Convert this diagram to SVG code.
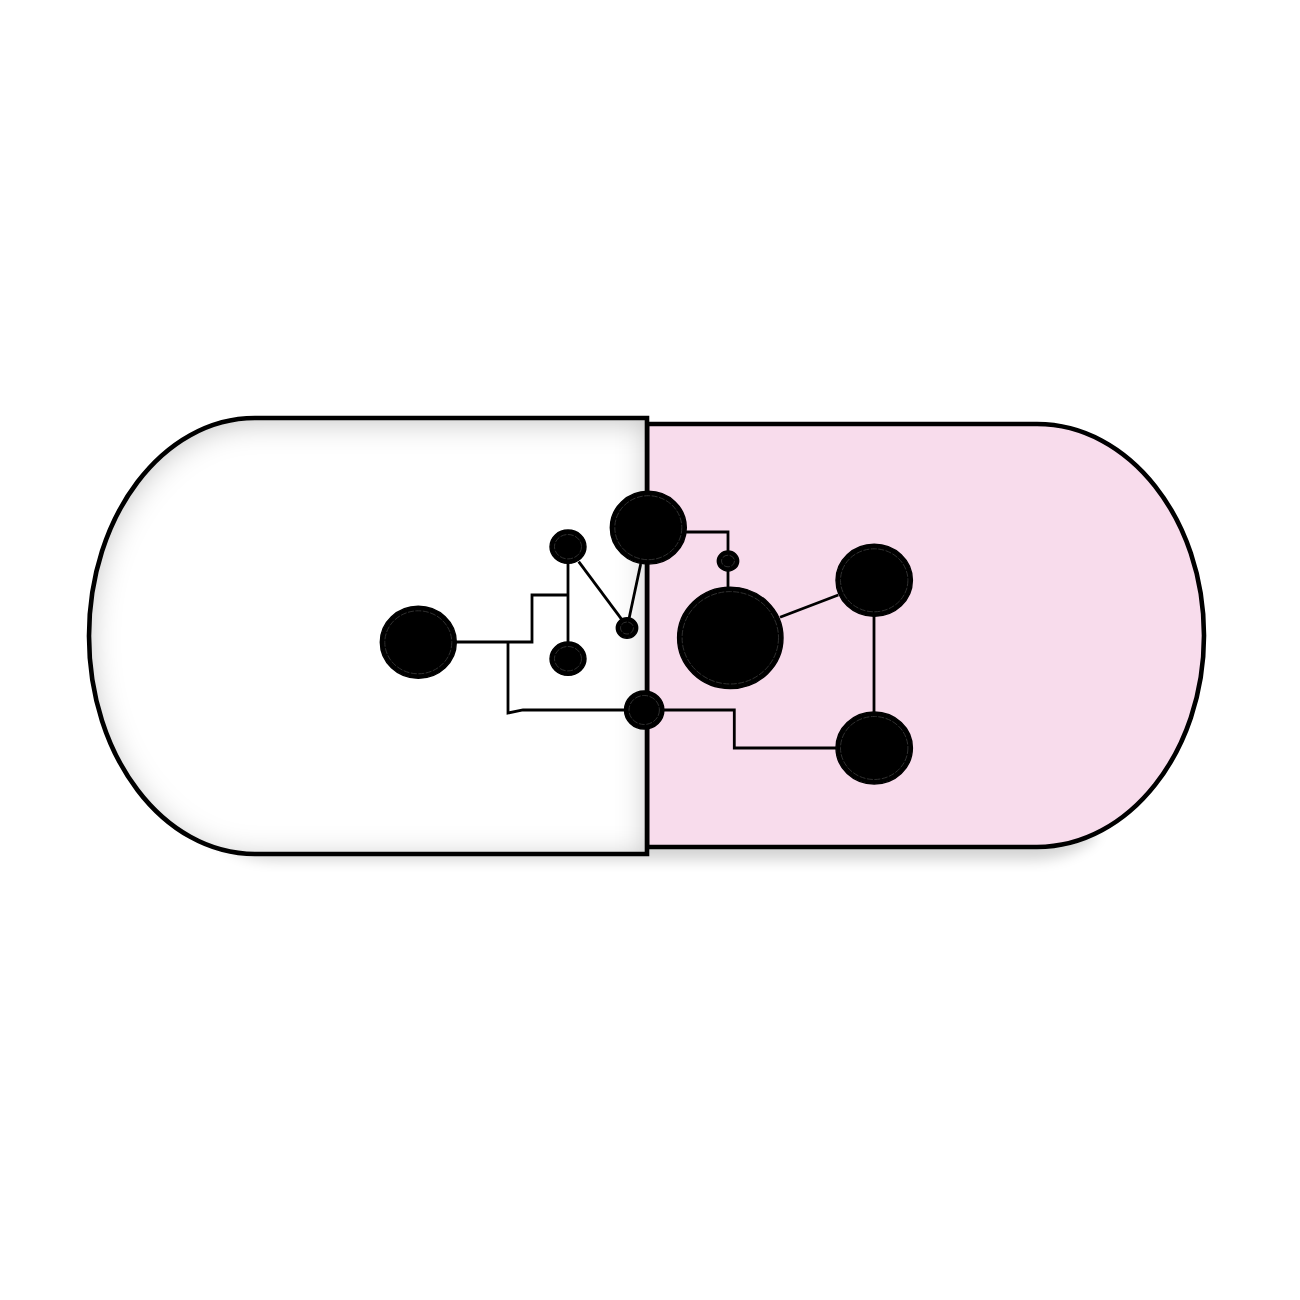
<svg xmlns="http://www.w3.org/2000/svg" width="1300" height="1300" viewBox="0 0 1300 1300">
  <style>
    .outline{fill:none;stroke:#000;stroke-width:4.600;stroke-linejoin:miter}
    .wire{fill:none;stroke:#000;stroke-width:2.800;stroke-linejoin:miter}
    .dot{fill:#000;stroke:#000;stroke-width:1.400}
    .ring{fill:none;stroke:#2f2f2f;stroke-width:1;stroke-dasharray:6 1.500}
  </style>
  <defs>
    <filter id="inset" x="-10%" y="-10%" width="120%" height="120%" color-interpolation-filters="sRGB">
      <feFlood flood-color="#000" flood-opacity="0.24" result="f"/>
      <feComposite in="f" in2="SourceAlpha" operator="out" result="o"/>
      <feGaussianBlur in="o" stdDeviation="15" result="b"/>
      <feOffset in="b" dx="0" dy="4" result="m"/>
      <feComposite in="m" in2="SourceAlpha" operator="in" result="s"/>
      <feMerge><feMergeNode in="SourceGraphic"/><feMergeNode in="s"/></feMerge>
    </filter>
    <filter id="soft" x="-10%" y="-30%" width="120%" height="160%"><feGaussianBlur stdDeviation="7"/></filter>
  </defs>
  <rect width="1300" height="1300" fill="#fff"/>
  <g id="capsule">
    <path d="M205 835C235 852 250 860 275 860H1030C1060 860 1080 850 1095 838V820H205Z" fill="#000" opacity="0.17" filter="url(#soft)"/>
    <path id="right-half" fill="#f8dcec" d="M647 424H1037C1129 424 1204 519 1204 635.500C1204 752 1129 847 1037 847H647Z"/>
    <path class="outline" d="M647 424H1037C1129 424 1204 519 1204 635.500C1204 752 1129 847 1037 847H647Z"/>
    <path id="left-half" fill="#fff" filter="url(#inset)" d="M647 418H255C163 418 89 516 89 636C89 756 163 854 255 854H647Z"/>
    <path class="outline" d="M647 418H255C163 418 89 516 89 636C89 756 163 854 255 854H647Z"/>
  </g>
  <g id="connectors">
    <path class="wire" d="M456 642H532V595H568"/>
    <path class="wire" d="M568 563V642"/>
    <path class="wire" d="M508 642V713L523 710H625"/>
    <path class="wire" d="M578.700 561.700L621.700 619.300"/>
    <path class="wire" d="M640.700 564L629 618.700"/>
    <path class="wire" d="M686 532H728V551"/>
    <path class="wire" d="M728 571V587"/>
    <path class="wire" d="M780 617.300L838.300 595"/>
    <path class="wire" d="M874 616V712"/>
    <path class="wire" d="M664 710H734.300V748H836"/>
  </g>
  <g id="n1"><ellipse class="dot" cx="418.300" cy="642.300" rx="38" ry="36"/><ellipse class="ring" cx="418.300" cy="642.300" rx="33.500" ry="31.500"/></g>
  <g id="n2"><ellipse class="dot" cx="568" cy="546.700" rx="18" ry="16.700"/><ellipse class="ring" cx="568" cy="546.700" rx="13.500" ry="12.200"/></g>
  <g id="n3"><ellipse class="dot" cx="568" cy="658.700" rx="18" ry="16.700"/><ellipse class="ring" cx="568" cy="658.700" rx="13.500" ry="12.200"/></g>
  <g id="n4"><ellipse class="dot" cx="627" cy="628" rx="10.700" ry="10.200"/><ellipse class="ring" cx="627" cy="628" rx="6.500" ry="6"/></g>
  <g id="n5"><ellipse class="dot" cx="648.300" cy="527.700" rx="38" ry="36.400"/><ellipse class="ring" cx="648.300" cy="527.700" rx="33.500" ry="32"/></g>
  <g id="n6"><ellipse class="dot" cx="644.200" cy="710" rx="19.700" ry="19"/><ellipse class="ring" cx="644.200" cy="710" rx="15.200" ry="14.500"/></g>
  <g id="n7"><ellipse class="dot" cx="728" cy="561" rx="10.700" ry="10"/><ellipse class="ring" cx="728" cy="561" rx="6.500" ry="5.800"/></g>
  <g id="n8"><ellipse class="dot" cx="730.300" cy="637.800" rx="52.700" ry="50.700"/><ellipse class="ring" cx="730.300" cy="637.800" rx="48.200" ry="46.200"/></g>
  <g id="n9"><ellipse class="dot" cx="874.200" cy="580.300" rx="38.200" ry="36"/><ellipse class="ring" cx="874.200" cy="580.300" rx="33.700" ry="31.500"/></g>
  <g id="n10"><ellipse class="dot" cx="874.200" cy="748" rx="38.200" ry="36"/><ellipse class="ring" cx="874.200" cy="748" rx="33.700" ry="31.500"/></g>
</svg>
